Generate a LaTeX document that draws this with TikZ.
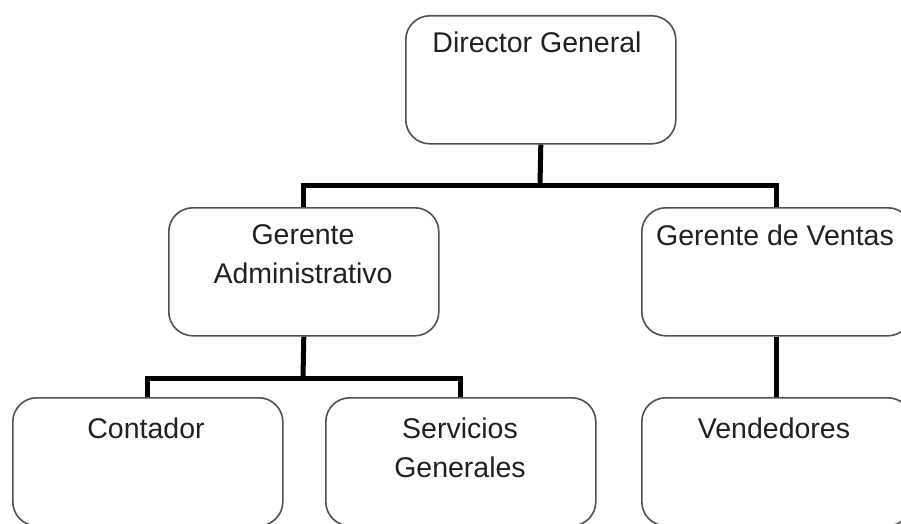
\documentclass[tikz,border=0pt]{standalone}
\usepackage{fontspec}
\setmainfont{Liberation Sans}
\definecolor{boxline}{HTML}{505050}
\definecolor{txt}{HTML}{202020}
\begin{document}
\begin{tikzpicture}[x=1pt,y=-1pt,
  box/.style={draw=boxline,line width=1.6pt,rounded corners=24pt,minimum width=270pt,minimum height=128pt,inner sep=0pt,anchor=north west},
  lbl/.style={text=txt,font=\fontsize{28.5}{39}\selectfont,align=center,anchor=base,inner sep=0pt},
  conn/.style={line width=5pt,black,line join=miter}]
\useasboundingbox (0,0) rectangle (901,524);
\clip (0,0) rectangle (901,524);
\node[box] (dg) at (405,15) {};
\node[box] (ga) at (168,207) {};
\node[box] (gv) at (641,207) {};
\node[box] (co) at (12,397) {};
\node[box] (sg) at (325,397) {};
\node[box] (ve) at (641,397) {};
\node[lbl] (tdg) at (537,53) {Director General};
\node[lbl] (tga) at (303,283) {Gerente\\Administrativo};
\node[lbl] (tgv) at (775,245) {Gerente de Ventas};
\node[lbl] (tco) at (146,438) {Contador};
\node[lbl] (tsg) at (460,477) {Servicios\\Generales};
\node[lbl] (tve) at (774,438) {Vendedores};
\coordinate (j1) at (540,185);
\coordinate (j2) at (303,378);
\draw[conn] (dg.south) -- (j1);
\draw[conn] (ga.north) |- (j1) -| (gv.north);
\draw[conn] (ga.south) -- (j2);
\draw[conn] (co.north) |- (j2) -| (sg.north);
\draw[conn] (gv.south) -- (ve.north);
\end{tikzpicture}
\end{document}
